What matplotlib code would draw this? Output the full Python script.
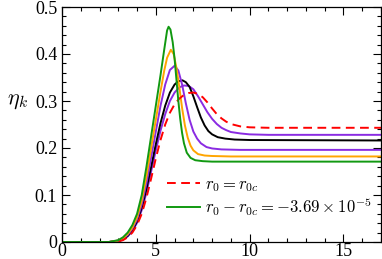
import matplotlib
matplotlib.use("Agg")
import matplotlib.pyplot as plt
from matplotlib.ticker import MultipleLocator

plt.rcParams['font.family'] = ['Liberation Serif', 'DejaVu Serif']
plt.rcParams['mathtext.fontset'] = 'cm'

# ---- data ----
green_x = [0, 2.5, 3.0, 3.25, 3.5, 3.75, 4.0, 4.25, 4.5, 4.75, 5.0, 5.25, 5.45, 5.6, 5.68,
           5.78, 5.9, 6.0, 6.1, 6.2, 6.3, 6.4, 6.5, 6.65, 6.85, 7.1, 7.5, 8.0, 17]
green_y = [0, 0.0, 0.004, 0.01, 0.02, 0.036, 0.06, 0.1, 0.16, 0.225, 0.29, 0.355, 0.41, 0.45, 0.458,
           0.452, 0.425, 0.39, 0.345, 0.30, 0.262, 0.232, 0.21, 0.19, 0.179, 0.174, 0.172, 0.171, 0.171]

orange_x = [0, 2.5, 3.0, 3.25, 3.5, 3.75, 4.0, 4.25, 4.5, 4.75, 5.0, 5.25, 5.45, 5.6, 5.8,
            5.95, 6.1, 6.25, 6.4, 6.55, 6.7, 6.85, 7.0, 7.25, 7.6, 8.0, 9.0, 17]
orange_y = [0, 0.0, 0.003, 0.008, 0.017, 0.031, 0.053, 0.088, 0.14, 0.2, 0.26, 0.32, 0.365, 0.392, 0.409,
            0.40, 0.37, 0.33, 0.285, 0.248, 0.222, 0.205, 0.195, 0.187, 0.184, 0.183, 0.182, 0.182]

purpleB_x = [0, 2.5, 3.0, 3.25, 3.5, 3.75, 4.0, 4.25, 4.5, 4.75, 5.0, 5.25, 5.5, 5.75, 6.0,
             6.2, 6.4, 6.6, 6.8, 7.0, 7.2, 7.4, 7.7, 8.0, 8.5, 9.5, 17]
purpleB_y = [0, 0.0, 0.003, 0.007, 0.015, 0.028, 0.048, 0.08, 0.125, 0.18, 0.235, 0.29, 0.335, 0.366, 0.375,
             0.365, 0.335, 0.295, 0.26, 0.235, 0.22, 0.21, 0.202, 0.199, 0.197, 0.196, 0.196]

black_x = [0, 2.5, 3.0, 3.25, 3.5, 3.75, 4.0, 4.25, 4.5, 4.75, 5.0, 5.25, 5.5, 5.75, 6.0, 6.2,
           6.42, 6.6, 6.8, 7.0, 7.2, 7.4, 7.6, 7.8, 8.0, 8.3, 8.7, 9.2, 10.0, 17]
black_y = [0, 0.0, 0.002, 0.006, 0.013, 0.025, 0.044, 0.073, 0.113, 0.16, 0.208, 0.253, 0.29, 0.318, 0.335, 0.342,
           0.344, 0.34, 0.33, 0.31, 0.287, 0.265, 0.248, 0.236, 0.229, 0.223, 0.22, 0.218, 0.217, 0.216]

purpleA_x = [0, 2.5, 3.0, 3.25, 3.5, 3.75, 4.0, 4.25, 4.5, 4.75, 5.0, 5.25, 5.5, 5.75, 6.0, 6.25,
             6.5, 6.75, 7.0, 7.25, 7.5, 7.75, 8.0, 8.25, 8.5, 8.75, 9.0, 9.5, 10.0, 11.0, 17]
purpleA_y = [0, 0.0, 0.002, 0.005, 0.012, 0.023, 0.041, 0.068, 0.105, 0.15, 0.195, 0.237, 0.272, 0.30, 0.318, 0.329,
             0.333, 0.332, 0.325, 0.31, 0.293, 0.276, 0.262, 0.251, 0.243, 0.238, 0.234, 0.231, 0.229, 0.228, 0.228]

red_x = [0, 2.5, 3.0, 3.25, 3.5, 3.75, 4.0, 4.25, 4.5, 4.75, 5.0, 5.25, 5.5, 5.75, 6.0, 6.25,
         6.5, 6.75, 7.0, 7.25, 7.5, 7.75, 8.0, 8.25, 8.5, 8.75, 9.0, 9.5, 10.0, 11.0, 17]
red_y = [0, 0.0, 0.001, 0.004, 0.01, 0.02, 0.036, 0.06, 0.094, 0.135, 0.178, 0.217, 0.25, 0.275, 0.293, 0.305,
         0.313, 0.317, 0.318, 0.315, 0.308, 0.297, 0.284, 0.272, 0.263, 0.256, 0.251, 0.246, 0.244, 0.243, 0.243]

legend_labels = [r'$r_0 = r_{0c}$', r'$r_0 - r_{0c} = -3.69\times10^{-5}$']
x_ticks = [0, 5, 10, 15]
y_ticks = [0, 0.1, 0.2, 0.3, 0.4, 0.5]
y_tick_labels = ['0', '0.1', '0.2', '0.3', '0.4', '0.5']

# ---- figure ----
fig = plt.figure(figsize=(3.82, 2.59), dpi=100)
ax = fig.add_axes([62/382, 17/259, 319/382, 235/259])

lw = 1.4
ax.plot(purpleA_x, purpleA_y, color='#8a2be2', lw=lw)
ax.plot(black_x, black_y, color='black', lw=lw)
ax.plot(purpleB_x, purpleB_y, color='#8a2be2', lw=lw)
ax.plot(orange_x, orange_y, color='#ffa500', lw=lw)
l_red, = ax.plot(red_x, red_y, color='#ff0000', lw=lw, ls=(0, (4.5, 2.8)))
l_green, = ax.plot(green_x, green_y, color='#119911', lw=lw)

ax.set_xlim(0, 17)
ax.set_ylim(0, 0.5)
ax.set_xticks(x_ticks)
ax.set_yticks(y_ticks)
ax.set_yticklabels(y_tick_labels)
ax.xaxis.set_minor_locator(MultipleLocator(1))
ax.yaxis.set_minor_locator(MultipleLocator(0.02))
ax.tick_params(which='both', direction='in', top=True, right=True, labelsize=13, width=0.8)
ax.tick_params(which='major', length=6)
ax.tick_params(which='minor', length=3)
ax.tick_params(axis='x', which='major', pad=0.5)
ax.tick_params(axis='y', which='major', pad=3.5)
for s in ax.spines.values():
    s.set_linewidth(0.9)

ax.text(-0.14, 0.6, r'$\eta_k$', transform=ax.transAxes, fontsize=16, ha='center', va='center')

ax.legend([l_red, l_green], legend_labels, loc='center left', bbox_to_anchor=(0.329, 0.19),
          frameon=False, fontsize=12, handlelength=2.0, handletextpad=0.3, labelspacing=0.1,
          borderaxespad=0, borderpad=0)

fig.savefig('out.png', dpi=100)
